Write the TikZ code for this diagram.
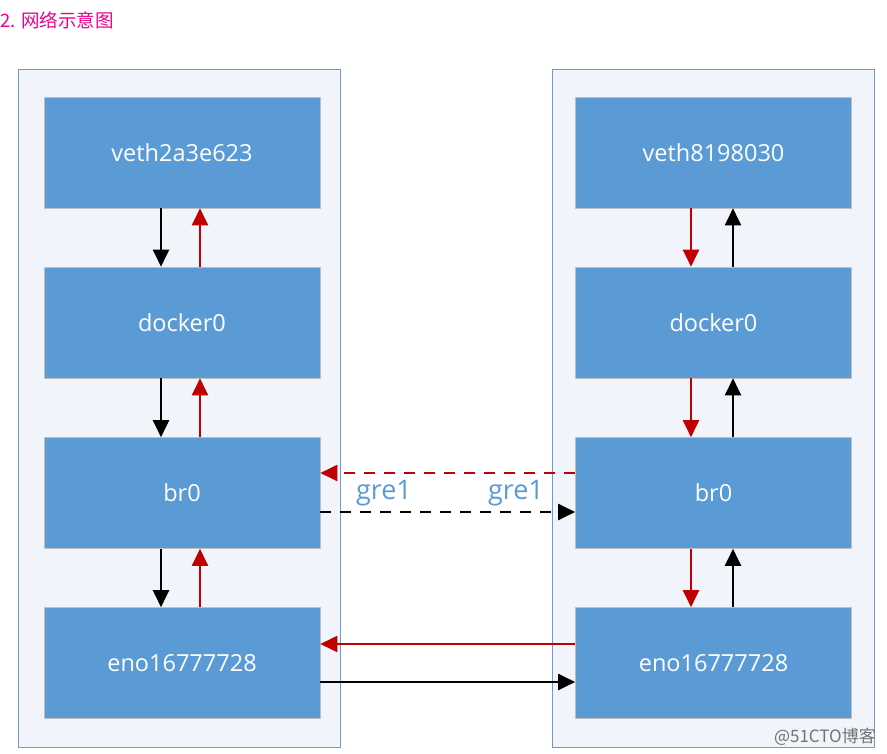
\documentclass[tikz,border=0pt]{standalone}
\usepackage{fontspec}
\setmainfont{Open Sans}
\newfontfamily\cjk{Noto Sans CJK SC}
\usetikzlibrary{arrows.meta}
\definecolor{boxblue}{HTML}{5B9BD5}
\definecolor{frameblue}{HTML}{6E9BCF}
\definecolor{framefill}{HTML}{F1F4FA}
\definecolor{arrred}{HTML}{C00000}
\definecolor{labblue}{HTML}{5B9BD5}
\tikzset{
  hostbox/.style={draw=frameblue, line width=1pt, fill=framefill, minimum width=322pt, minimum height=677pt, inner sep=0pt},
  devbox/.style={draw=black!25, line width=0.6pt, fill=boxblue, minimum width=276pt, minimum height=111pt, inner sep=0pt, text=white, font=\fontsize{23.5}{26}\selectfont},
  arr/.style={line width=2pt, -{Triangle[length=17pt,width=16pt]}},
  blk/.style={arr, draw=black},
  rd/.style={arr, draw=arrred},
  dsh/.style={dash pattern=on 11pt off 9pt},
  gre/.style={text=labblue, font=\fontsize{27}{30}\selectfont, inner sep=0pt}
}
\begin{document}
\begin{tikzpicture}[x=1pt,y=-1pt]
\useasboundingbox (0,0) rectangle (887,754);
\node[anchor=west, text=magenta, inner sep=0pt, font=\cjk\fontsize{18.5}{20}\selectfont] (title) at (0,20) {2. 网络示意图};
\node[hostbox] (HL) at (179,408.5) {};
\node[hostbox] (HR) at (713,408.5) {};
\node[devbox] (L1) at (182,152.5) {veth2a3e623};
\node[devbox] (L2) at (182,322.5) {docker0};
\node[devbox] (L3) at (182,493) {br0};
\node[devbox] (L4) at (182,663) {eno16777728};
\node[devbox] (R1) at (713.5,152.5) {veth8198030};
\node[devbox] (R2) at (713.5,322.5) {docker0};
\node[devbox] (R3) at (713.5,493) {br0};
\node[devbox] (R4) at (713.5,663) {eno16777728};
% left vertical
\draw[blk] ([xshift=-21pt]L1.south) -- ([xshift=-21pt]L2.north);
\draw[rd] ([xshift=18pt]L2.north) -- ([xshift=18pt]L1.south);
\draw[blk] ([xshift=-21pt]L2.south) -- ([xshift=-21pt]L3.north);
\draw[rd] ([xshift=18pt]L3.north) -- ([xshift=18pt]L2.south);
\draw[blk] ([xshift=-21pt]L3.south) -- ([xshift=-21pt]L4.north);
\draw[rd] ([xshift=18pt]L4.north) -- ([xshift=18pt]L3.south);
% right vertical
\draw[rd] ([xshift=-22.5pt]R1.south) -- ([xshift=-22.5pt]R2.north);
\draw[blk] ([xshift=19.5pt]R2.north) -- ([xshift=19.5pt]R1.south);
\draw[rd] ([xshift=-22.5pt]R2.south) -- ([xshift=-22.5pt]R3.north);
\draw[blk] ([xshift=19.5pt]R3.north) -- ([xshift=19.5pt]R2.south);
\draw[rd] ([xshift=-22.5pt]R3.south) -- ([xshift=-22.5pt]R4.north);
\draw[blk] ([xshift=19.5pt]R4.north) -- ([xshift=19.5pt]R3.south);
% gre tunnel
\draw[rd, dsh] ([yshift=20pt]R3.west) -- ([yshift=20pt]L3.east);
\draw[blk, dsh] ([yshift=-19pt]L3.east) -- ([yshift=-19pt]R3.west);
\node[gre] (g1) at (384,493) {gre1};
\node[gre] (g2) at (516,493) {gre1};
% physical
\draw[rd] ([yshift=19pt]R4.west) -- ([yshift=19pt]L4.east);
\draw[blk] ([yshift=-19pt]L4.east) -- ([yshift=-19pt]R4.west);
\node[anchor=east, text=black!55, inner sep=0pt, font=\cjk\fontsize{17}{18}\selectfont] (wm) at (876,737) {@51CTO博客};
\end{tikzpicture}
\end{document}
